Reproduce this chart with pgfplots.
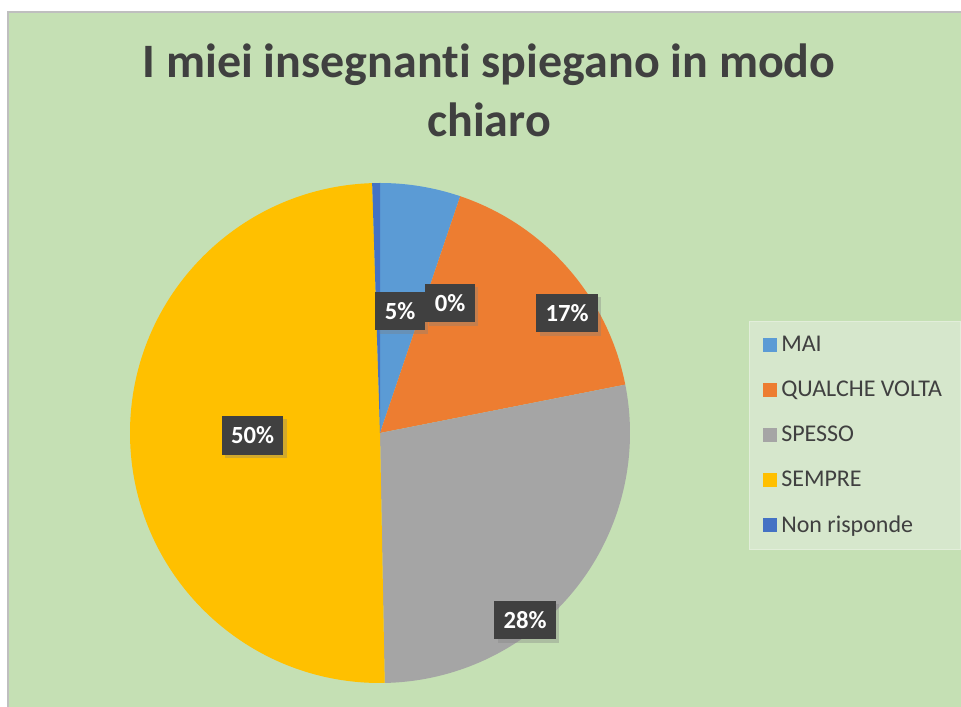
\documentclass[border=0pt]{standalone}
\usepackage{pgfplots}
\pgfplotsset{compat=1.18}
\usepackage{pgfplotstable}
\usepackage{fontspec}
\setmainfont{Carlito}[Ligatures=NoCommon]
\usetikzlibrary{shadows}
\definecolor{bg}{HTML}{C5E0B4}
\definecolor{legfill}{HTML}{D6E7CC}
\definecolor{legdraw}{HTML}{E2EEDA}
\definecolor{cMai}{HTML}{5B9BD5}
\definecolor{cQV}{HTML}{ED7D31}
\definecolor{cSp}{HTML}{A5A5A5}
\definecolor{cSe}{HTML}{FFC000}
\definecolor{cNR}{HTML}{4472C4}
\definecolor{txt}{HTML}{404040}
\definecolor{lbl}{HTML}{404040}

% share of each answer (percent), clockwise from 12 o'clock
\pgfplotstableread{
idx value
0 5.2
1 16.7
2 27.8
3 49.8
4 0.5
}\piedata

\newcommand\getval[2]{\pgfplotstablegetelem{#1}{value}\of\piedata\global\let#2\pgfplotsretval}
\getval{0}\vA \getval{1}\vB \getval{2}\vC \getval{3}\vD \getval{4}\vE
\pgfmathsetmacro{\aA}{90}
\pgfmathsetmacro{\aB}{\aA-3.6*\vA}
\pgfmathsetmacro{\aC}{\aB-3.6*\vB}
\pgfmathsetmacro{\aD}{\aC-3.6*\vC}
\pgfmathsetmacro{\aE}{\aD-3.6*\vD}
\pgfmathsetmacro{\aF}{\aE-3.6*\vE}

\tikzset{lab/.style={fill=lbl, text=white, font=\bfseries\fontsize{18.5}{20}\selectfont,
  inner xsep=7pt, inner ysep=0pt, minimum height=29pt,
  drop shadow={opacity=0.35, shadow xshift=2.5pt, shadow yshift=-2.5pt}}}

\newcommand\pieslice[3]{\fill[#1] (axis cs:0,0) -- (axis cs:{cos(#2)},{sin(#2)}) arc[start angle=#2, end angle=#3, radius=187.5pt] -- cycle;}

\begin{document}
\begin{tikzpicture}[x=0.75pt,y=0.75pt]
\useasboundingbox (0,0) rectangle (961,707);
\fill[white] (0,0) rectangle (961,707);
\fill[bg] (8,0) rectangle (961,695);
\draw[black!25, line width=0.9pt] (8,0) -- (8,695) -- (961,695);
\node[anchor=base, text=txt, font=\bfseries\fontsize{36}{40}\selectfont] at (489,629) {I miei insegnant\kern0pt i spiegano in modo};
\node[anchor=base, text=txt, font=\bfseries\fontsize{36}{40}\selectfont] at (489,570) {chiaro};
\begin{axis}[at={(285pt,205.5pt)}, anchor=center, hide axis, scale only axis,
  width=375pt, height=375pt, xmin=-1, xmax=1, ymin=-1, ymax=1, clip=false,
  legend image code/.code={\fill[#1, draw=none] (0pt,-5.25pt) rectangle (10.5pt,5.25pt);},
  legend style={at={(rel axis cs:1.238,0.724)}, anchor=north west,
    draw=legdraw, fill=legfill, text=txt, font=\fontsize{18}{20}\selectfont,
    inner xsep=10pt, inner ysep=1pt, row sep=0pt,
    nodes={minimum height=33.75pt, inner xsep=3.5pt, inner ysep=0pt}},
  legend cell align=left]
\addlegendimage{fill=cMai}\addlegendentry{MAI}
\addlegendimage{fill=cQV}\addlegendentry{QUALCHE VOLTA}
\addlegendimage{fill=cSp}\addlegendentry{SPESSO}
\addlegendimage{fill=cSe}\addlegendentry{SEMPRE}
\addlegendimage{fill=cNR}\addlegendentry{Non risponde}
\pieslice{cMai}{\aA}{\aB}
\pieslice{cQV}{\aB}{\aC}
\pieslice{cSp}{\aC}{\aD}
\pieslice{cSe}{\aD}{\aE}
\pieslice{cNR}{\aE}{\aF}
\node[lab] at (axis cs:0.08,0.488) {5\%};
\node[lab] at (axis cs:0.28,0.52) {0\%};
\node[lab] at (axis cs:0.748,0.48) {17\%};
\node[lab] at (axis cs:0.58,-0.748) {28\%};
\node[lab] at (axis cs:-0.51,-0.01) {50\%};
\end{axis}
\end{tikzpicture}
\end{document}
